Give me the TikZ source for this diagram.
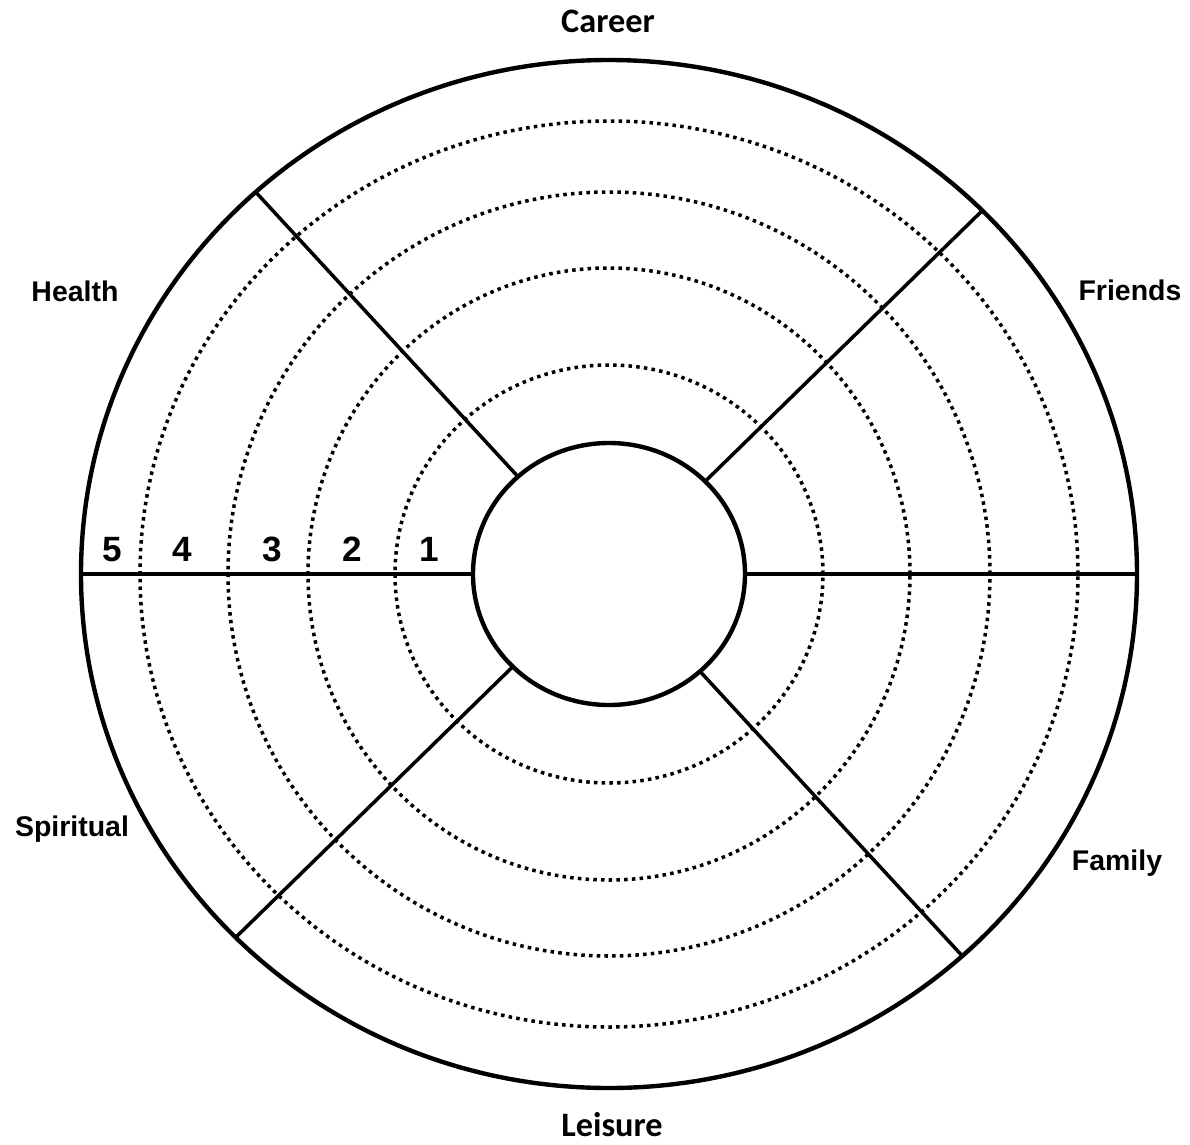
\documentclass[tikz,border=0pt]{standalone}
\usepackage{fontspec}
\setmainfont{Liberation Sans}
\newfontfamily\calfont{Carlito}

\begin{document}
\begin{tikzpicture}[x=0.02cm,y=0.02cm,
  rim/.style={line width=2.5pt},
  ring/.style={line width=2pt,dash pattern=on 2pt off 2.4pt},
  spoke/.style={line width=2pt},
  area/.style={anchor=base,font=\bfseries\fontsize{16.2}{19}\selectfont},
  pole/.style={anchor=base,font=\calfont\bfseries\fontsize{19.5}{22}\selectfont},
  score/.style={anchor=base,font=\bfseries\fontsize{20}{22}\selectfont}]
  \useasboundingbox (-609,-570) rectangle (581,574);
  % score rings
  \draw[ring] (0,0) ellipse [x radius=214, y radius=209];
  \draw[ring] (0,0) ellipse [x radius=301, y radius=306];
  \draw[ring] (0,0) ellipse [x radius=381, y radius=382];
  \draw[ring] (0,0) ellipse [x radius=469, y radius=453];
  % hub and rim
  \draw[rim] (0,0) ellipse [x radius=528, y radius=514];
  \draw[rim] (0,0) ellipse [x radius=136, y radius=131];
  % spokes
  \foreach \a in {0,45,132,180,225,312} {
    \coordinate (hub-\a) at (\a:136 and 131);
    \coordinate (edge-\a) at (\a:528 and 514);
    \draw[spoke] (hub-\a) -- (edge-\a);
  }
  % areas
  \node[pole] (career) at (-1,541) {Career};
  \node[pole] (leisure) at (3,-562) {Leisure};
  \node[area] (health) at (-534,273) {Health};
  \node[area] (friends) at (521,274) {Friends};
  \node[area] (spiritual) at (-537,-262) {Spiritual};
  \node[area] (family) at (508,-296) {Family};
  % scores
  \node[score] (s5) at (-497,13) {5};
  \node[score] (s4) at (-427,13) {4};
  \node[score] (s3) at (-337,13) {3};
  \node[score] (s2) at (-257,13) {2};
  \node[score] (s1) at (-180,13) {1};
\end{tikzpicture}
\end{document}
